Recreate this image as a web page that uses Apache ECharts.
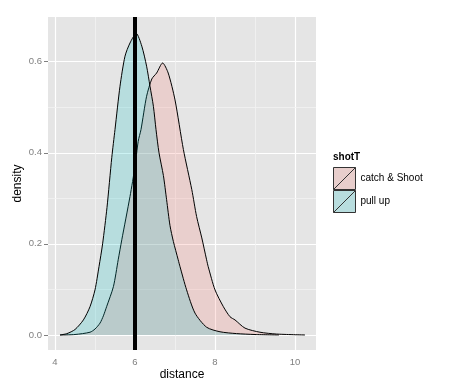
<!DOCTYPE html>
<html>
<head>
<meta charset="utf-8">
<script src="https://cdn.jsdelivr.net/npm/echarts@6/dist/echarts.min.js"></script>
<style>html,body{margin:0;padding:0;background:#fff}#c{width:454px;height:392px}</style>
</head>
<body>
<div id="c"></div>
<script>
const seriesNames = ['catch & Shoot', 'pull up'];
const catchX = [4.125, 4.5, 4.875, 5.0, 5.125, 5.21, 5.29, 5.46, 5.58, 5.67, 5.875, 6.0, 6.08, 6.15, 6.29, 6.42, 6.54, 6.69, 6.83, 7.0, 7.21, 7.42, 7.54, 7.67, 7.79, 7.83, 8.0, 8.21, 8.375, 8.5, 8.75, 9.125, 9.54, 10.25];
const catchY = [0, 0.001, 0.006, 0.013, 0.026, 0.042, 0.062, 0.106, 0.165, 0.209, 0.304, 0.370, 0.425, 0.451, 0.524, 0.562, 0.575, 0.597, 0.575, 0.516, 0.407, 0.319, 0.260, 0.213, 0.165, 0.150, 0.099, 0.062, 0.040, 0.033, 0.015, 0.006, 0.002, 0];
const pullX = [4.125, 4.3, 4.5, 4.71, 4.875, 5.0, 5.1, 5.19, 5.3, 5.42, 5.5, 5.625, 5.75, 5.875, 6.03, 6.17, 6.29, 6.375, 6.46, 6.525, 6.6, 6.71, 6.79, 6.875, 6.96, 7.08, 7.125, 7.29, 7.5, 7.79, 8.125, 8.54, 9.0, 9.6];
const pullY = [0, 0.003, 0.012, 0.033, 0.062, 0.099, 0.150, 0.200, 0.280, 0.390, 0.451, 0.546, 0.612, 0.641, 0.662, 0.634, 0.590, 0.546, 0.502, 0.451, 0.400, 0.350, 0.297, 0.240, 0.205, 0.165, 0.150, 0.099, 0.048, 0.017, 0.007, 0.003, 0.001, 0];
const xTicks = [4, 6, 8, 10];
const yTicks = [0, 0.2, 0.4, 0.6];
const vlineX = 6;

const FONT = 'Liberation Sans, Arial, sans-serif';
const pair = (xs, ys) => xs.map((x, i) => [x, ys[i]]);
const mids = a => a.slice(1).map((v, i) => (v + a[i]) / 2);

const major = { color: '#FFFFFF', width: 1.2, type: 'solid' };
const minor = { color: '#F2F2F2', width: 0.8, type: 'solid' };
const gridLines = []
  .concat(xTicks.map(v => ({ xAxis: v, lineStyle: major })))
  .concat(yTicks.map(v => ({ yAxis: v, lineStyle: major })))
  .concat(mids(xTicks).map(v => ({ xAxis: v, lineStyle: minor })))
  .concat(mids(yTicks).map(v => ({ yAxis: v, lineStyle: minor })));

const chart = echarts.init(document.getElementById('c'), null, { renderer: 'canvas' });
chart.setOption({
  animation: false,
  textStyle: { fontFamily: FONT },
  grid: { left: 48, right: 138, top: 17, bottom: 42, show: true, backgroundColor: '#E5E5E5', borderWidth: 0 },
  title: { text: 'shotT', left: 333, top: 152, padding: 0, textStyle: { fontSize: 10, fontWeight: 'bold', color: '#000', fontFamily: FONT } },
  legend: {
    orient: 'vertical', left: 333, top: 167, padding: 0, itemWidth: 22, itemHeight: 22, itemGap: 0,
    selectedMode: false,
    textStyle: { fontSize: 10, color: '#000', fontFamily: FONT },
    data: [
      { name: seriesNames[0], icon: 'path://M0,0L20,0L20,20L0,20ZM0,20L20,0', itemStyle: { color: '#E8CECC', borderColor: '#333', borderWidth: 1 } },
      { name: seriesNames[1], icon: 'path://M0,0L20,0L20,20L0,20ZM0,20L20,0', itemStyle: { color: '#B8DDDE', borderColor: '#333', borderWidth: 1 } }
    ]
  },
  xAxis: {
    type: 'value', min: 3.825, max: 10.525,
    axisLine: { show: false },
    axisTick: { show: true, length: 4, customValues: xTicks, lineStyle: { color: '#7F7F7F' } },
    axisLabel: { customValues: xTicks, color: '#7F7F7F', fontSize: 9.5, margin: 7, fontFamily: FONT },
    splitLine: { show: false },
    name: 'distance', nameLocation: 'middle', nameGap: 19, nameMoveOverlap: false,
    nameTextStyle: { color: '#000', fontSize: 12, fontFamily: FONT }
  },
  yAxis: {
    type: 'value', min: -0.033, max: 0.698,
    axisLine: { show: false },
    axisTick: { show: true, length: 4, customValues: yTicks, lineStyle: { color: '#7F7F7F' } },
    axisLabel: { customValues: yTicks, color: '#7F7F7F', fontSize: 9.5, margin: 6, fontFamily: FONT, formatter: v => v.toFixed(1) },
    splitLine: { show: false },
    name: 'density', nameLocation: 'middle', nameGap: 24, nameMoveOverlap: false,
    nameTextStyle: { color: '#000', fontSize: 12, fontFamily: FONT }
  },
  series: [
    {
      type: 'line', name: '_grid', data: [], silent: true,
      markLine: { silent: true, symbol: 'none', z: 1, label: { show: false }, data: gridLines }
    },
    {
      type: 'line', name: seriesNames[0], data: pair(catchX, catchY),
      showSymbol: false, symbol: 'none', smooth: 0.25, z: 2,
      itemStyle: { color: '#E8CECC' },
      lineStyle: { color: '#000', width: 1 },
      areaStyle: { color: 'rgba(248,118,109,0.2)', opacity: 1 }
    },
    {
      type: 'line', name: seriesNames[1], data: pair(pullX, pullY),
      showSymbol: false, symbol: 'none', smooth: 0.25, z: 3,
      itemStyle: { color: '#B8DDDE' },
      lineStyle: { color: '#000', width: 1 },
      areaStyle: { color: 'rgba(0,191,196,0.2)', opacity: 1 },
      markLine: { silent: true, symbol: 'none', z: 6, label: { show: false },
        lineStyle: { color: '#000', width: 4, type: 'solid' }, data: [{ xAxis: vlineX }] }
    }
  ]
});
</script>
</body>
</html>
